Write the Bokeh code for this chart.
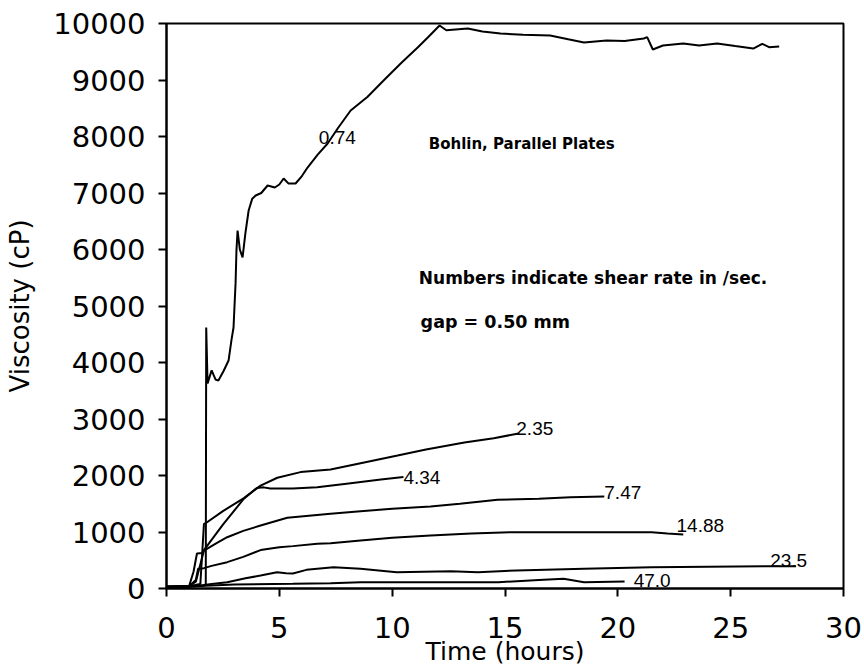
from bokeh.plotting import figure
from bokeh.models import Range1d, FixedTicker, ColumnDataSource
from bokeh.core.properties import value
from bokeh.embed import file_html
from bokeh.resources import INLINE

# ---- data (time in hours, viscosity in cP) ----
t_074 = [0, 1.0, 1.65, 1.74, 1.76, 1.82, 2.0, 2.17, 2.3, 2.53, 2.75, 2.88, 2.97, 3.06, 3.1, 3.15,
         3.25, 3.37, 3.5, 3.64, 3.8, 3.95, 4.2, 4.48, 4.8, 5.0, 5.19, 5.4, 5.72, 6.0, 6.25, 6.7,
         7.14, 7.6, 8.16, 8.9, 9.62, 10.4, 11.13, 11.6, 12.1, 12.4, 13.35, 14.0, 14.8, 15.8, 17.0,
         17.8, 18.5, 19.5, 20.3, 21.15, 21.3, 21.55, 22.0, 22.9, 23.6, 24.4, 25.2, 26.0, 26.4, 26.7, 27.15]
v_074 = [20, 30, 50, 60, 4620, 3630, 3860, 3700, 3680, 3850, 4035, 4400, 4620, 5400, 5980, 6336,
         6000, 5860, 6300, 6690, 6900, 6956, 7000, 7133, 7097, 7150, 7257, 7170, 7168, 7300, 7451, 7680,
         7876, 8150, 8460, 8700, 8991, 9300, 9575, 9760, 9965, 9880, 9911, 9860, 9823, 9800, 9788,
         9720, 9664, 9700, 9690, 9735, 9760, 9540, 9610, 9646, 9610, 9646, 9600, 9557, 9640, 9580, 9593]

t_235 = [0, 1.0, 1.5, 1.66, 1.75, 2.5, 3.43, 4.17, 4.91, 5.94, 7.27, 8.6, 10.24, 11.5, 13.2, 14.5, 15.6]
v_235 = [30, 40, 80, 1145, 1160, 1370, 1600, 1820, 1960, 2060, 2106, 2218, 2354, 2460, 2584, 2660, 2743]

t_434 = [0, 1.0, 1.2, 1.35, 1.6, 1.66, 2.5, 3.43, 4.0, 4.3, 4.6, 5.6, 6.68, 8.16, 9.5, 10.5]
v_434 = [30, 40, 300, 620, 630, 680, 1130, 1590, 1780, 1790, 1770, 1770, 1790, 1864, 1930, 1975]

t_747 = [0, 1.0, 1.3, 1.66, 2.2, 2.69, 3.4, 4.17, 5.35, 7.27, 8.6, 10.0, 11.7, 13.0, 14.67, 16.5, 17.9, 19.4]
v_747 = [30, 40, 120, 672, 800, 908, 1020, 1115, 1251, 1322, 1368, 1410, 1451, 1500, 1569, 1590, 1616, 1628]

t_1488 = [0, 1.0, 1.3, 1.4, 1.66, 2.0, 2.69, 3.4, 4.17, 5.0, 5.6, 6.68, 7.27, 8.6, 10.0, 11.7, 13.5,
          15.4, 18.8, 21.5, 22.2, 22.9]
v_1488 = [30, 40, 150, 350, 360, 400, 466, 560, 680, 730, 750, 790, 800, 850, 900, 938, 975,
          997, 997, 997, 973, 956]

t_235b = [0, 1.0, 1.5, 2.0, 2.69, 3.5, 4.17, 4.9, 5.3, 5.6, 6.2, 7.4, 8.6, 10.2, 12.6, 13.8, 15.5,
          18.5, 21.5, 24.0, 27.4, 27.9]
v_235b = [30, 40, 53, 80, 112, 180, 230, 289, 270, 265, 330, 377, 348, 289, 306, 289, 320,
          348, 377, 385, 395, 395]

t_470 = [0, 1.0, 2.0, 3.0, 5.6, 7.27, 8.6, 11.0, 14.7, 16.5, 17.6, 18.5, 20.3]
v_470 = [30, 40, 53, 70, 83, 94, 112, 110, 112, 150, 171, 112, 125]

series = [(t_074, v_074), (t_235, v_235), (t_434, v_434), (t_747, v_747),
          (t_1488, v_1488), (t_235b, v_235b), (t_470, v_470)]

# curve labels (shear rate, /sec)
lab_text = ["0.74", "2.35", "4.34", "7.47", "14.88", "23.5", "47.0"]
lab_t = [6.75, 15.5, 10.5, 19.4, 22.6, 26.75, 20.7]
lab_v = [7990, 2830, 1965, 1700, 1115, 496, 142]

note_text = ["Bohlin,  Parallel Plates", "Numbers indicate shear rate in /sec.", "gap = 0.50 mm"]
note_t = [11.62, 11.18, 11.26]
note_v = [7876, 5504, 4708]

x_ticks = [0, 5, 10, 15, 20, 25, 30]
y_ticks = [0, 1000, 2000, 3000, 4000, 5000, 6000, 7000, 8000, 9000, 10000]

p = figure(width=864, height=668, output_backend="svg", toolbar_location=None,
           x_range=Range1d(0, 30), y_range=Range1d(0, 10000),
           min_border_left=166, min_border_right=21, min_border_top=23, min_border_bottom=80)
p.grid.visible = False
p.outline_line_color = "black"
p.outline_line_width = 2
p.outline_line_alpha = 1
p.background_fill_color = "white"
p.border_fill_color = "white"

for ax, ticks in ((p.xaxis, x_ticks), (p.yaxis, y_ticks)):
    ax.ticker = FixedTicker(ticks=ticks)
    ax.axis_line_width = 2
    ax.axis_line_color = "black"
    ax.major_tick_line_width = 2
    ax.major_tick_in = 0
    ax.major_tick_out = 8
    ax.minor_tick_line_color = None
    ax.major_label_text_font = "DejaVu Sans"
    ax.major_label_text_font_size = "29px"
    ax.major_label_text_color = "black"
    ax.axis_label_text_font = "DejaVu Sans"
    ax.axis_label_text_font_style = "normal"
    ax.axis_label_text_color = "black"

p.xaxis.axis_label = "Time (hours)"
p.yaxis.axis_label = "Viscosity (cP)"
p.xaxis.axis_label_text_font_size = "25px"
p.yaxis.axis_label_text_font_size = "26px"
p.xaxis.major_label_standoff = 20
p.yaxis.major_label_standoff = 13
p.xaxis.axis_label_standoff = -4
p.yaxis.axis_label_standoff = 15

for t, v in series:
    p.line(t, v, line_color="black", line_width=2)

src = ColumnDataSource(dict(x=lab_t, y=lab_v, text=lab_text))
p.text(x="x", y="y", text="text", source=src, text_font=value("Liberation Sans"),
       text_font_size="19px", text_align="left", text_baseline="middle", text_color="black")

note_sizes = ["15px", "17px", "17.5px"]
for tx, nt, nv, fs in zip(note_text, note_t, note_v, note_sizes):
    p.text(x=[nt], y=[nv], text=[tx], text_font=value("DejaVu Sans"),
           text_font_size=value(fs), text_font_style="bold", text_align="left",
           text_baseline="middle", text_color="black")

open("out.html", "w").write(file_html(p, INLINE))
